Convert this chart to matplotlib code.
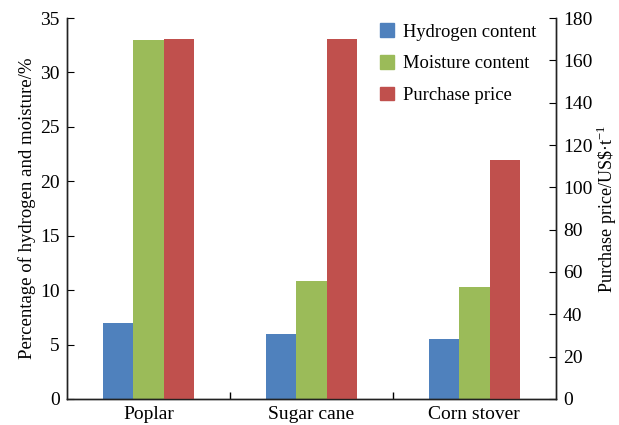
import matplotlib
matplotlib.use("Agg")
import matplotlib.pyplot as plt
import numpy as np
from matplotlib.patches import Patch

plt.rcParams['font.family'] = ['Liberation Serif', 'DejaVu Serif']
plt.rcParams['mathtext.fontset'] = 'custom'
plt.rcParams['mathtext.rm'] = 'Liberation Serif'

categories = ["Poplar", "Sugar cane", "Corn stover"]
hydrogen = [6.95, 5.95, 5.5]
moisture = [33.0, 10.8, 10.3]
price = [170, 170, 113]
series_names = ["Hydrogen content", "Moisture content", "Purchase price"]
colors = ["#4F81BD", "#9BBB59", "#C0504D"]

fig = plt.figure(figsize=(6.19, 4.25), dpi=100)
ax = fig.add_axes([0.108, 0.0612, 0.790, 0.8964])
ax2 = ax.twinx()

x = np.arange(len(categories))
w = 0.187
ax.bar(x - w, hydrogen, w, color=colors[0])
ax.bar(x, moisture, w, color=colors[1])
ax2.bar(x + w, price, w, color=colors[2])

ax.set_xlim(-0.5, len(categories) - 0.5)
ax.set_ylim(0, 35)
ax2.set_ylim(0, 180)
ax.set_yticks(np.arange(0, 36, 5))
ax2.set_yticks(np.arange(0, 181, 20))

ax.set_xticks(x)
ax.set_xticklabels(categories, fontsize=14)
ax.set_xticks([0.5, 1.5], minor=True)
ax.tick_params(axis='x', which='major', length=0, pad=5)
ax.tick_params(axis='x', which='minor', direction='in', length=5, width=1)
ax.tick_params(axis='y', direction='in', length=5, labelsize=14, pad=5)
ax2.tick_params(axis='y', direction='in', length=5, labelsize=14, pad=5)

for a in (ax, ax2):
    a.spines['top'].set_visible(False)
    for s in ('left', 'right', 'bottom'):
        a.spines[s].set_linewidth(1.0)
        a.spines[s].set_color('#222222')

ax.set_ylabel("Percentage of hydrogen and moisture/%", fontsize=13.5, labelpad=3)
ax2.set_ylabel("Purchase price/US\\$\u00b7t$^{-1}$", fontsize=13, labelpad=2)

handles = [Patch(color=c) for c in colors]
ax.legend(handles, series_names, loc='upper left', bbox_to_anchor=(0.618, 1.015),
          frameon=False, fontsize=13.3, handlelength=0.75, handleheight=0.75,
          labelspacing=0.78, handletextpad=0.5, borderaxespad=0.2)

fig.savefig("out.png", dpi=100)
